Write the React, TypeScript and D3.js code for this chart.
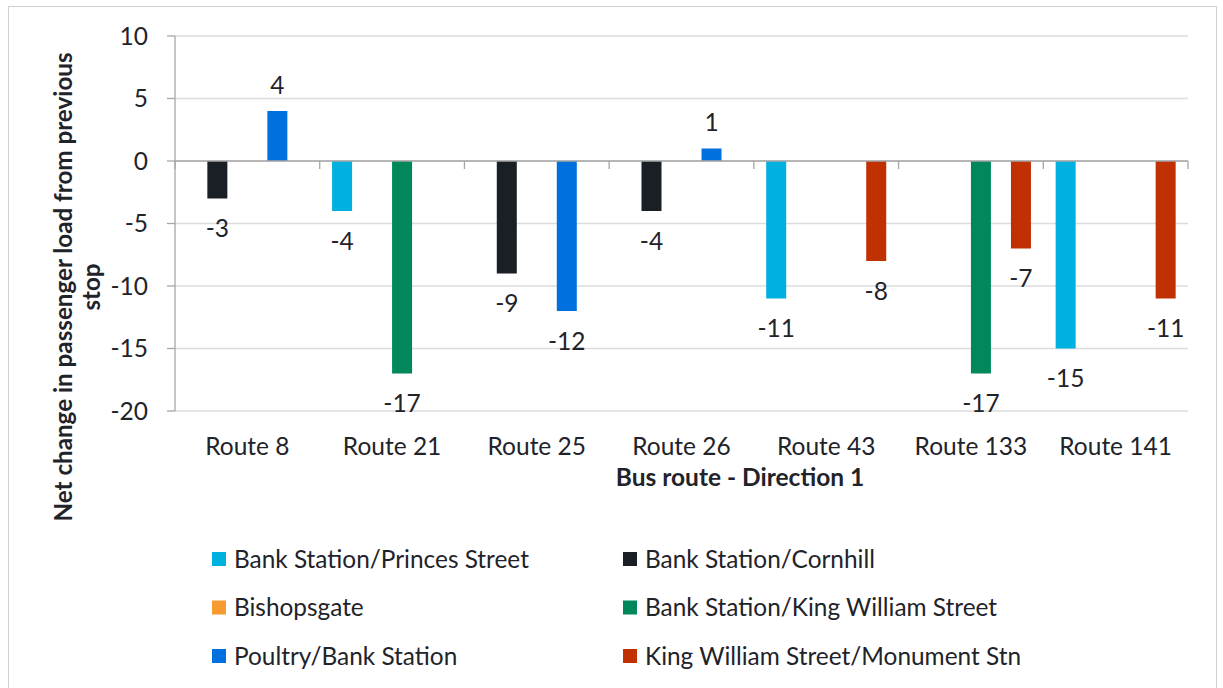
import React from "react";
import * as d3 from "d3";

const categories = ["Route 8", "Route 21", "Route 25", "Route 26", "Route 43", "Route 133", "Route 141"];
const seriesNames = [
  "Bank Station/Princes Street",
  "Bank Station/Cornhill",
  "Bishopsgate",
  "Bank Station/King William Street",
  "Poultry/Bank Station",
  "King William Street/Monument Stn",
];
const seriesColors = ["#00B0DE", "#1A1E25", "#F79A30", "#00875C", "#0070DF", "#C03000"];
// values per series, aligned with categories (null = no bar)
const princesStreet = [null, -4, null, null, -11, null, -15];
const cornhill = [-3, null, -9, -4, null, null, null];
const bishopsgate = [null, null, null, null, null, null, null];
const kingWilliamStreet = [null, -17, null, null, null, -17, null];
const poultry = [4, null, -12, 1, null, null, null];
const monument = [null, null, null, null, -8, -7, -11];
const yTicks = [10, 5, 0, -5, -10, -15, -20];

const seriesValues = [princesStreet, cornhill, bishopsgate, kingWilliamStreet, poultry, monument];

const FONT = "Lato, 'Open Sans', sans-serif";
const TEXT = "#1F232A";
const FS = 24.5;

export default function App() {
  const W = 1223, H = 688;
  const left = 175, right = 1188, top = 36, bottom = 411;
  const x = d3.scaleBand<string>().domain(categories).range([left, right]).padding(0);
  const inner = d3
    .scaleBand<number>()
    .domain(d3.range(seriesNames.length))
    .range([12.35, x.bandwidth() - 12.35])
    .padding(0);
  const y = d3.scaleLinear().domain([-20, 10]).range([bottom, top]);

  const bars: any[] = [];
  seriesValues.forEach((vals, si) => {
    vals.forEach((v, ci) => {
      if (v === null || v === undefined) return;
      bars.push({ si, ci, v });
    });
  });

  return (
    <svg width={W} height={H} style={{ display: "block", position: "absolute", left: 0, top: 0 }}>
      <rect x={0} y={0} width={W} height={H} fill="#fff" />
      <rect x={8.5} y={6.5} width={1208} height={700} fill="#fff" stroke="#D0D0D0" strokeWidth={1} />
      {/* gridlines */}
      {yTicks.map((t) => (
        <line key={"g" + t} x1={left} x2={right} y1={y(t)} y2={y(t)} stroke="#DCDCDC" strokeWidth={1.3} />
      ))}
      {/* y axis */}
      <line x1={left} x2={left} y1={top} y2={bottom} stroke="#A6A6A6" strokeWidth={1.3} />
      {yTicks.map((t) => (
        <g key={"t" + t}>
          <line x1={left - 8} x2={left} y1={y(t)} y2={y(t)} stroke="#A6A6A6" strokeWidth={1.3} />
          <text x={148} y={y(t)} dy="0.35em" textAnchor="end" fontFamily={FONT} fontSize={FS} fill={TEXT}>
            {t}
          </text>
        </g>
      ))}
      {/* bars */}
      {bars.map((b) => {
        const bx = (x(categories[b.ci]) as number) + (inner(b.si) as number);
        const y0 = y(0), y1 = y(b.v);
        return (
          <rect
            key={b.si + "-" + b.ci}
            x={bx}
            y={Math.min(y0, y1)}
            width={inner.bandwidth()}
            height={Math.abs(y1 - y0)}
            fill={seriesColors[b.si]}
          />
        );
      })}
      {/* x axis at zero */}
      <line x1={left} x2={right} y1={y(0)} y2={y(0)} stroke="#A6A6A6" strokeWidth={1.3} />
      {d3.range(categories.length + 1).map((i) => {
        const xx = left + i * x.bandwidth();
        return <line key={"ct" + i} x1={xx} x2={xx} y1={y(0)} y2={y(0) + 8} stroke="#A6A6A6" strokeWidth={1.3} />;
      })}
      {/* data labels */}
      {bars.map((b) => {
        const cx = (x(categories[b.ci]) as number) + (inner(b.si) as number) + inner.bandwidth() / 2;
        const ly = b.v >= 0 ? y(b.v) - 26 : y(b.v) + 30;
        return (
          <text key={"l" + b.si + "-" + b.ci} x={cx} y={ly} dy="0.35em" textAnchor="middle" fontFamily={FONT} fontSize={FS} fill={TEXT}>
            {b.v}
          </text>
        );
      })}
      {/* category labels */}
      {categories.map((c) => (
        <text key={c} x={(x(c) as number) + x.bandwidth() / 2} y={446} dy="0.35em" textAnchor="middle" fontFamily={FONT} fontSize={FS} fill={TEXT}>
          {c}
        </text>
      ))}
      <text x={740} y={477} dy="0.35em" textAnchor="middle" fontFamily={FONT} fontSize={24.5} fontWeight="bold" fill={TEXT}>
        Bus route - Direction 1
      </text>
      <g transform="translate(64,287) rotate(-90)">
        <text x={0} y={0} dy="0.35em" textAnchor="middle" fontFamily={FONT} fontSize={24.2} fontWeight="bold" fill={TEXT}>
          Net change in passenger load from previous
        </text>
        <text x={0} y={28} dy="0.35em" textAnchor="middle" fontFamily={FONT} fontSize={24.2} fontWeight="bold" fill={TEXT}>
          stop
        </text>
      </g>
      {/* legend */}
      {seriesNames.map((n, i) => {
        const col = i % 2, row = Math.floor(i / 2);
        const sx = col === 0 ? 212 : 623;
        const cy = 559 + row * 48.5;
        return (
          <g key={n}>
            <rect x={sx} y={cy - 7} width={14} height={14} fill={seriesColors[i]} />
            <text x={sx + 22} y={cy} dy="0.35em" fontFamily={FONT} fontSize={24.4} fill={TEXT}>
              {n}
            </text>
          </g>
        );
      })}
    </svg>
  );
}
